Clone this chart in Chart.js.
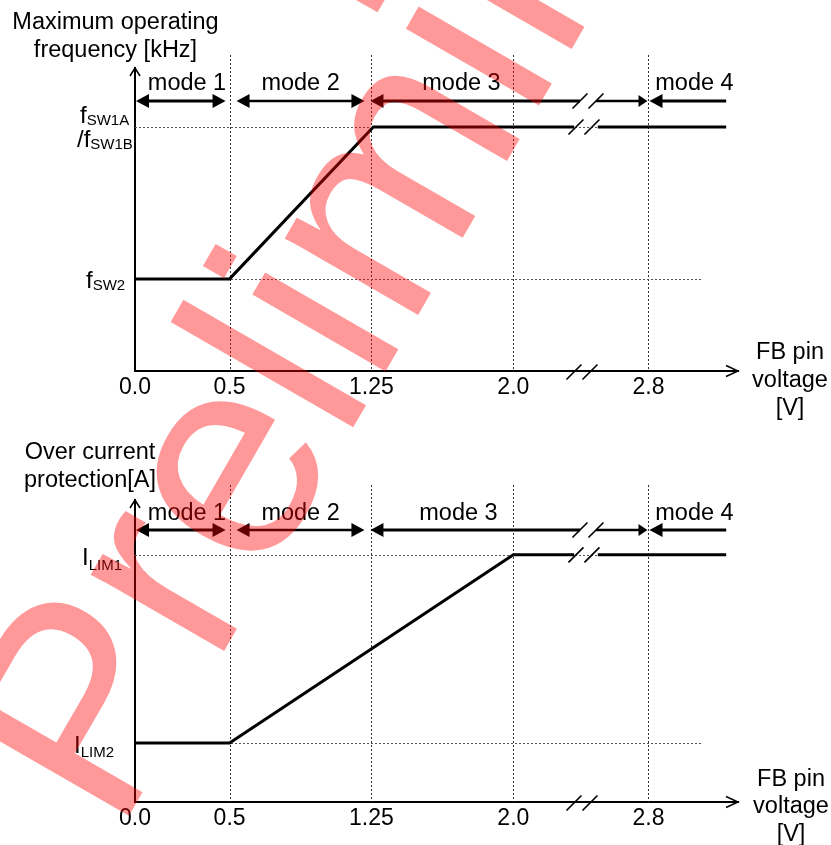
<!DOCTYPE html>
<html><head><meta charset="utf-8">
<script src="https://cdn.jsdelivr.net/npm/chart.js@4.4.0/dist/chart.umd.min.js"></script>
<style>
html,body{margin:0;padding:0;background:#fff;}
#wrap{position:relative;width:831px;height:845px;overflow:hidden;background:#fff;}
#c1{position:absolute;left:0;top:0;}
#c2{position:absolute;left:0;top:425px;}
#wm{position:absolute;left:0;top:0;pointer-events:none;}
</style></head><body>
<div id="wrap">
<canvas id="c1" width="831" height="425"></canvas>
<canvas id="c2" width="831" height="420"></canvas>
<canvas id="wm" width="831" height="845"></canvas>
</div>
<script>
// ---------------- data ----------------
const fbTickValues = [0.0, 0.5, 1.25, 2.0, 2.8];
const fbTickLabels = ['0.0', '0.5', '1.25', '2.0', '2.8'];
const modeNames = ['mode 1', 'mode 2', 'mode 3', 'mode 4'];
const modeBounds = [0.0, 0.5, 1.25, 2.8];
const freqX = [0.0, 0.5, 1.26, 2.36, 2.43, 2.50, 3.26];
const freqY = [1.0, 1.0, 2.65, 2.65, null, 2.65, 2.65];
const freqLevels = [1.0, 2.65];          // fSW2, fSW1A/fSW1B
const ocpX = [0.0, 0.5, 2.0, 2.36, 2.43, 2.50, 3.26];
const ocpY = [1.0, 1.0, 4.19, 4.19, null, 4.19, 4.19];
const ocpLevels = [1.0, 4.19];           // ILIM2, ILIM1
const xBreakAt = 2.0, xBreakRatio = 0.893, xMaxReal = 3.33, xBreakValue = 2.43;
const refLineEnd = 3.12;
const watermarkText = 'Preliminary';

// ---------------- broken linear axis ----------------
const toDisp = v => v <= xBreakAt ? v : xBreakAt + (v - xBreakAt) * xBreakRatio;
const fromDisp = d => d <= xBreakAt ? d : xBreakAt + (d - xBreakAt) / xBreakRatio;
class BrokenScale extends Chart.LinearScale {
  getPixelForValue(v) { return (v === null || v === undefined) ? NaN : super.getPixelForValue(toDisp(v)); }
  getValueForPixel(p) { return fromDisp(super.getValueForPixel(p)); }
}
BrokenScale.id = 'broken';
Chart.register(BrokenScale);

const FONT = "'Liberation Sans', Arial, Helvetica, sans-serif";
Chart.defaults.font.family = FONT;
Chart.defaults.color = '#000';

function text(ctx, s, x, y, size, align) {
  ctx.font = size + 'px ' + FONT;
  ctx.textAlign = align || 'left';
  ctx.textBaseline = 'alphabetic';
  ctx.fillStyle = '#000';
  ctx.fillText(s, x, y);
}
function subLabel(ctx, main, sub, x, y, subDy) {
  text(ctx, main, x, y, 24);
  ctx.font = '24px ' + FONT;
  const w = ctx.measureText(main).width;
  text(ctx, sub, x + w, y + subDy, 15);
}
function head(ctx, tip, y, dir, len, half) {
  ctx.beginPath();
  ctx.moveTo(tip, y);
  ctx.lineTo(tip - dir * len, y - half);
  ctx.lineTo(tip - dir * len, y + half);
  ctx.closePath();
  ctx.fill();
}
function seg(ctx, x1, y1, x2, y2, w) {
  ctx.lineWidth = w;
  ctx.beginPath(); ctx.moveTo(x1, y1); ctx.lineTo(x2, y2); ctx.stroke();
}
function slash(ctx, cx, cy) { seg(ctx, cx - 7.5, cy + 7.5, cx + 7.5, cy - 7.5, 1.6); }

function decor(cfg) {
  return {
    id: 'decor_' + cfg.name,
    beforeDatasetsDraw(chart) {
      const ctx = chart.ctx, ca = chart.chartArea, xs = chart.scales.x, ys = chart.scales.y;
      ctx.save();
      ctx.strokeStyle = '#333';
      ctx.lineWidth = 1;
      ctx.setLineDash([2, 2]);
      for (const v of fbTickValues.slice(1)) {
        const px = Math.round(xs.getPixelForValue(v)) + 0.5;
        ctx.beginPath(); ctx.moveTo(px, ca.top - cfg.vTop); ctx.lineTo(px, ca.bottom); ctx.stroke();
      }
      ctx.strokeStyle = '#555';
      for (const lv of cfg.levels) {
        const py = Math.round(ys.getPixelForValue(lv)) + 0.5;
        ctx.beginPath(); ctx.moveTo(ca.left, py); ctx.lineTo(xs.getPixelForValue(refLineEnd), py); ctx.stroke();
      }
      ctx.restore();
    },
    afterDraw(chart) {
      const ctx = chart.ctx, ca = chart.chartArea, xs = chart.scales.x, ys = chart.scales.y;
      const px = v => xs.getPixelForValue(v);
      const bx = px(xBreakValue);
      ctx.save();
      ctx.strokeStyle = '#000'; ctx.fillStyle = '#000'; ctx.lineCap = 'butt';
      // axis arrowheads (open)
      ctx.lineWidth = 1.5;
      ctx.beginPath(); ctx.moveTo(ca.left - 5, ca.top + 8); ctx.lineTo(ca.left, ca.top); ctx.lineTo(ca.left + 5, ca.top + 8); ctx.stroke();
      ctx.beginPath(); ctx.moveTo(ca.right - 12, ca.bottom - 5.5); ctx.lineTo(ca.right, ca.bottom); ctx.lineTo(ca.right - 12, ca.bottom + 5.5); ctx.stroke();
      // axis break
      slash(ctx, bx - 12, ca.bottom + 1); slash(ctx, bx + 4, ca.bottom + 1);
      // data line break
      const dy = ys.getPixelForValue(cfg.levels[1]);
      slash(ctx, bx - 10, dy); slash(ctx, bx + 6, dy);
      // mode arrows
      const ay = ca.top + cfg.arrowOff;
      const L = 13, H = 7;
      const b = modeBounds.map(px);
      const endX = px(cfg.x[cfg.x.length - 1]);
      seg(ctx, b[0] + 1 + L / 2, ay, b[1] - 4 - L / 2, ay, 3);
      head(ctx, b[0] + 1, ay, -1, L, H); head(ctx, b[1] - 4, ay, 1, L, H);
      seg(ctx, b[1] + 7 + L / 2, ay, b[2] - 7 - L / 2, ay, 2.5);
      head(ctx, b[1] + 7, ay, -1, L, H); head(ctx, b[2] - 7, ay, 1, L, H);
      seg(ctx, b[2] - 1 + L / 2, ay, bx - 6, ay, 3);
      seg(ctx, bx + 10, ay, b[3] - 1 - 4, ay, 2.5);
      head(ctx, b[2] - 1, ay, -1, L, H); head(ctx, b[3] - 1, ay, 1, 9, 6);
      slash(ctx, bx - 6, ay); slash(ctx, bx + 10, ay);
      seg(ctx, b[3] + 1 + L / 2, ay, endX, ay, 3);
      head(ctx, b[3] + 1, ay, -1, L, H);
      // mode labels
      const ly = ca.top + cfg.labelOff;
      const lOff = [52, 71, cfg.mode3Off, 46];
      modeNames.forEach((m, i) => text(ctx, m, b[i] + lOff[i], ly, 23.5, 'center'));
      cfg.levelLabels(ctx, ys);
      cfg.titles(ctx, ca);
      ctx.restore();
    }
  };
}

function makeChart(canvas, cfg) {
  return new Chart(canvas, {
    type: 'line',
    data: {
      datasets: [{
        data: cfg.x.map((x, i) => ({ x: x, y: cfg.y[i] })),
        borderColor: '#000', borderWidth: 3, pointRadius: 0, pointHoverRadius: 0,
        spanGaps: false, tension: 0, fill: false, borderJoinStyle: 'miter', borderCapStyle: 'butt'
      }]
    },
    options: {
      animation: false, responsive: false, devicePixelRatio: 1, events: [],
      layout: { padding: { left: 135, right: 93, top: cfg.padTop, bottom: cfg.padBottom } },
      plugins: { legend: { display: false }, tooltip: { enabled: false }, title: { display: false } },
      scales: {
        x: {
          type: 'broken', min: 0, max: toDisp(xMaxReal), bounds: 'data',
          afterBuildTicks: s => { s.ticks = fbTickValues.map(v => ({ value: v })); },
          afterFit: s => { s.height = 30; },
          grid: { display: false, drawTicks: false },
          border: { display: true, color: '#000', width: 2 },
          ticks: { autoSkip: false, maxRotation: 0, minRotation: 0, padding: 3, color: '#000',
                   font: { family: FONT, size: 23 }, callback: (v, i) => fbTickLabels[i] }
        },
        y: {
          type: 'linear', min: 0, max: cfg.yMax,
          afterFit: s => { s.width = 0; },
          grid: { display: false, drawTicks: false },
          border: { display: true, color: '#000', width: 2 },
          ticks: { display: false }
        }
      }
    },
    plugins: [decor(cfg)]
  });
}

const topCfg = {
  name: 'top', x: freqX, y: freqY, levels: freqLevels, yMax: 3.29,
  padTop: 68, padBottom: 24, vTop: 13, arrowOff: 33, labelOff: 22, mode3Off: 90,
  levelLabels(ctx, ys) {
    const y2 = ys.getPixelForValue(freqLevels[0]);
    const y1 = ys.getPixelForValue(freqLevels[1]);
    subLabel(ctx, 'f', 'SW2', 86, y2 + 9, 2);
    subLabel(ctx, 'f', 'SW1A', 80, y1 - 4, 2);
    subLabel(ctx, '/f', 'SW1B', 77, y1 + 20, 2);
  },
  titles(ctx, ca) {
    text(ctx, 'Maximum operating', 115.5, 28.5, 23.5, 'center');
    text(ctx, 'frequency [kHz]', 115.5, 57, 23.5, 'center');
    text(ctx, 'FB pin', 790, ca.bottom - 12, 23.5, 'center');
    text(ctx, 'voltage', 790, ca.bottom + 16, 23.5, 'center');
    text(ctx, '[V]', 790, ca.bottom + 44, 23.5, 'center');
  }
};
const bottomCfg = {
  name: 'bottom', x: ocpX, y: ocpY, levels: ocpLevels, yMax: 5.12,
  padTop: 75, padBottom: 13, vTop: 15, arrowOff: 30, labelOff: 20, mode3Off: 87,
  levelLabels(ctx, ys) {
    const y2 = ys.getPixelForValue(ocpLevels[0]);
    const y1 = ys.getPixelForValue(ocpLevels[1]);
    subLabel(ctx, 'I', 'LIM2', 74, y2 + 9.5, 4.5);
    subLabel(ctx, 'I', 'LIM1', 82, y1 + 10, 5);
  },
  titles(ctx, ca) {
    text(ctx, 'Over current', 90, 459 - 425, 23.5, 'center');
    text(ctx, 'protection[A]', 90, 487 - 425, 23.5, 'center');
    text(ctx, 'FB pin', 791, ca.bottom - 16, 23.5, 'center');
    text(ctx, 'voltage', 791, ca.bottom + 11, 23.5, 'center');
    text(ctx, '[V]', 791, ca.bottom + 39, 23.5, 'center');
  }
};

makeChart(document.getElementById('c1'), topCfg);
makeChart(document.getElementById('c2'), bottomCfg);

// ---------------- watermark ----------------
(function () {
  const ctx = document.getElementById('wm').getContext('2d');
  ctx.save();
  ctx.translate(117, 836.5);
  ctx.rotate(-60 * Math.PI / 180);
  ctx.font = '291px ' + FONT;
  ctx.textBaseline = 'alphabetic';
  ctx.fillStyle = 'rgba(255,0,0,0.4)';
  ctx.fillText(watermarkText, 0, 0);
  ctx.restore();
})();
</script>
</body></html>
